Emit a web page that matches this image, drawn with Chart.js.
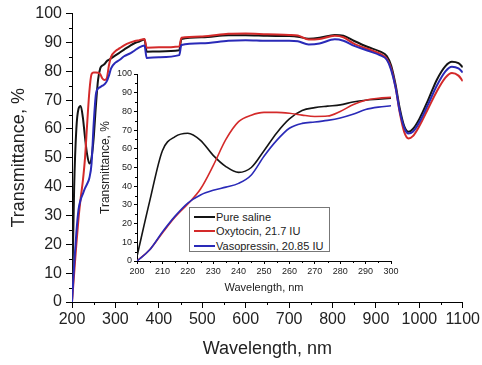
<!DOCTYPE html>
<html>
<head>
<meta charset="utf-8">
<script src="https://cdn.jsdelivr.net/npm/chart.js@4"></script>
<style>
body{margin:0;background:#fff;}
#wrap{position:relative;width:482px;height:365px;overflow:hidden;}
#mainChart{position:absolute;left:0;top:0;}
#insetChart{position:absolute;left:90px;top:62px;}
#legend{position:absolute;left:189px;top:207px;width:139px;height:43px;border:1px solid #777;background:#fff;
  font-family:"Liberation Sans",Arial,sans-serif;font-size:11px;color:#222;z-index:2;}
#legend .row{position:absolute;left:0;height:14px;line-height:14px;white-space:nowrap;}
#legend .swatch{position:absolute;left:4px;top:6px;width:21px;height:2px;}
#legend .txt{position:absolute;left:26px;top:0;}
</style>
</head>
<body>
<div id="wrap">
  <canvas id="mainChart" width="482" height="365"></canvas>
  <canvas id="insetChart" width="315" height="235"></canvas>
  <div id="legend"></div>
</div>
<script>
/* MAIN SPECTRUM DATA (200-1100 nm) */
const mainWl=[200,205,210,215,220,225,230,235,240,245,250,255,260,265,270,275,280,285,290,300,310,320,335,345,355,367,372,400,447,452,500,560,600,650,700,720,745,770,805,825,850,880,910,925,935,945,955,965,975,985,1000,1020,1040,1060,1075,1090,1100];
const mainSaline=[0,40,60,67,68,64,57,51,48,50,57,68,77,81,82,82.5,83.5,84,84.5,85.5,86.5,87.5,89,89.8,90.3,91,86.8,86.9,87.3,91.2,91.8,92.5,92.5,92.3,92.2,92,91.3,91.6,92.6,92.3,90.5,88.5,86.8,85.3,82,75.5,67,61,59,60,63.5,70,77,81.8,83.3,82.8,81.4];
const mainOxytocin=[0,10,20,29,36,42,50,62,73,79,79.6,79.6,79.5,79,77.5,77,77.5,82,85,87,88,89,90,90.5,90.8,91.2,88.2,88.3,88.6,91.6,92.1,93,93.1,92.8,92.6,92.4,91,91.2,92.3,91.8,89.5,87.8,86,84.3,81,74.5,65.5,59,56.7,57.5,61,67,73,77.8,79.4,78.5,76.6];
const mainVasopressin=[0,13,24,32,35.5,37.5,39.5,41,43,48,62,72,74,74.5,75,75.5,76.5,78.5,81,83,84,85.2,86.3,87.3,88.3,88.9,84.6,84.9,85.6,89.1,89.7,90.6,90.8,90.6,90.6,90.4,89.3,89.6,91.1,90.6,88.8,87.2,85.5,84,80.5,74.5,66,60.5,58.4,59,62.3,68.5,75,80,81.6,81,79.6];

/* INSET DATA (200-300 nm) */
const insetWl=[200,205,210,215,220,225,230,235,240,245,250,255,260,265,270,275,280,285,290,295,300];
const insetSaline=[2.5,32,59,66.5,68.3,64.5,56.5,50.5,47.4,50,59,68.5,76,80.5,82,82.8,83.5,85,86,86.5,87];
const insetOxytocin=[0,6,15,23.5,30.5,38.5,51,65,74.5,78,79.5,79.5,79,78,77.3,77.5,80,83.5,86,87,87.5];
const insetVasopressin=[0,6,15.5,24,31,35.3,37.8,39.5,41.5,46,56,64.5,71,73.6,74.3,75.2,76.5,78.5,81,82.3,83];

const seriesNames=["Pure saline","Oxytocin, 21.7 IU","Vasopressin, 20.85 IU"];
const seriesColors=["#141414","#d42a2a","#2a2ab8"];

const mainXTicks={min:200,max:1100,step:100,minor:50};
const mainYTicks={min:0,max:100,step:10,minor:5};
const insetXTicks={min:200,max:300,step:10,minor:5};
const insetYTicks={min:0,max:100,step:10,minor:5};

function pairs(xs,ys){
    return xs.map((x,i)=>({x:x,y:ys[i]}));
}

/* MINOR TICKS */
const minorTicks={
    id:"minorTicks",
    afterDraw(chart,args,opts){
        const ctx=chart.ctx;
        ctx.save();
        ctx.strokeStyle="#000";
        ctx.lineWidth=1;
        ctx.beginPath();
        const xs=chart.scales.x, ys=chart.scales.y;
        for(let v=xs.min+opts.x; v<xs.max; v+=2*opts.x){
            const p=Math.round(xs.getPixelForValue(v))+0.5;
            ctx.moveTo(p,xs.top);
            ctx.lineTo(p,xs.top+opts.len);
        }
        for(let v=ys.min+opts.y; v<ys.max; v+=2*opts.y){
            const p=Math.round(ys.getPixelForValue(v))+0.5;
            ctx.moveTo(ys.right,p);
            ctx.lineTo(ys.right-opts.len,p);
        }
        ctx.stroke();
        ctx.restore();
    }
};

function makeDatasets(xs,lists,width){
    return lists.map((ys,i)=>({
        label:seriesNames[i],
        data:pairs(xs,ys),
        borderColor:seriesColors[i],
        borderWidth:width,
        pointRadius:0,
        fill:false,
        cubicInterpolationMode:"monotone",
        order:[2,1,0][i]
    }));
}

const font="'Liberation Sans', Arial, sans-serif";
const plain=v=>String(v);

/* MAIN CHART */
new Chart(
document.getElementById("mainChart"),
{
    type:"line",
    data:{
        datasets:makeDatasets(mainWl,[mainSaline,mainOxytocin,mainVasopressin],2)
    },
    options:{
        responsive:false,
        animation:false,
        layout:{padding:{left:0,right:17,top:12,bottom:0}},
        plugins:{
            legend:{display:false},
            tooltip:{enabled:false},
            minorTicks:{x:mainXTicks.minor,y:mainYTicks.minor,len:3}
        },
        scales:{
            x:{
                type:"linear",
                min:mainXTicks.min,max:mainXTicks.max,
                afterFit(axis){axis.height=63;},
                ticks:{stepSize:mainXTicks.step,callback:plain,color:"#222",font:{family:font,size:16},padding:2,maxRotation:0},
                grid:{drawOnChartArea:false,drawTicks:true,tickLength:6,color:"#000"},
                border:{display:true,color:"#000",width:1},
                title:{display:true,text:"Wavelength, nm",color:"#222",font:{family:font,size:18},padding:{top:0,bottom:5}}
            },
            y:{
                min:mainYTicks.min,max:mainYTicks.max,
                afterFit(axis){axis.width=72;},
                ticks:{stepSize:mainYTicks.step,callback:plain,color:"#222",font:{family:font,size:16},padding:4},
                grid:{drawOnChartArea:false,drawTicks:true,tickLength:6,color:"#000"},
                border:{display:true,color:"#000",width:1},
                title:{display:true,text:"Transmittance, %",color:"#222",font:{family:font,size:18},padding:{top:8,bottom:0}}
            }
        }
    },
    plugins:[minorTicks]
}
);

/* INSET CHART */
new Chart(
document.getElementById("insetChart"),
{
    type:"line",
    data:{
        datasets:makeDatasets(insetWl,[insetSaline,insetOxytocin,insetVasopressin],1.6)
    },
    options:{
        responsive:false,
        animation:false,
        layout:{padding:{left:0,right:14,top:12,bottom:0}},
        plugins:{
            legend:{display:false},
            tooltip:{enabled:false},
            minorTicks:{x:insetXTicks.minor,y:insetYTicks.minor,len:2}
        },
        scales:{
            x:{
                type:"linear",
                min:insetXTicks.min,max:insetXTicks.max,
                afterFit(axis){axis.height=36;},
                ticks:{stepSize:insetXTicks.step,callback:plain,color:"#222",font:{family:font,size:9},padding:2,maxRotation:0},
                grid:{drawOnChartArea:false,drawTicks:true,tickLength:3,color:"#000"},
                border:{display:true,color:"#000",width:1},
                title:{display:true,text:"Wavelength, nm",color:"#222",font:{family:font,size:11},padding:{top:0,bottom:2}}
            },
            y:{
                min:insetYTicks.min,max:insetYTicks.max,
                afterFit(axis){axis.width=47;},
                ticks:{stepSize:insetYTicks.step,callback:plain,color:"#222",font:{family:font,size:9},padding:2},
                grid:{drawOnChartArea:false,drawTicks:true,tickLength:3,color:"#000"},
                border:{display:true,color:"#000",width:1},
                title:{display:true,text:"Transmittance, %",color:"#222",font:{family:font,size:12},padding:{top:8,bottom:0}}
            }
        }
    },
    plugins:[minorTicks]
}
);

/* LEGEND */
let legend=document.getElementById("legend");
seriesNames.forEach((name,i)=>{
    let row=document.createElement("div");
    row.className="row";
    row.style.top=(2+i*14.3)+"px";
    row.innerHTML='<span class="swatch" style="background:'+seriesColors[i]+'"></span><span class="txt">'+name+'</span>';
    legend.appendChild(row);
});
</script>
</body>
</html>
